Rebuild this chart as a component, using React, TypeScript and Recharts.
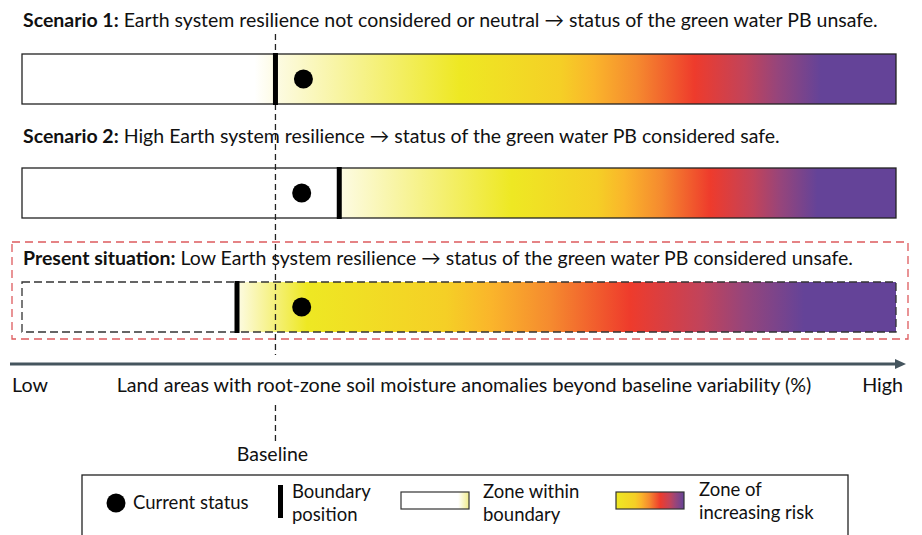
import React from "react";
import {
  ComposedChart,
  Bar,
  Scatter,
  XAxis,
  YAxis,
  ReferenceLine,
  ReferenceArea,
  Legend,
  LabelList,
  Label,
} from "recharts";

const FONT = "Lato, 'Open Sans', sans-serif";

// rows, top to bottom
const scenarios = ["Scenario 1", "Scenario 2", "Present situation"];
const titleLeads = ["Scenario 1:", "Scenario 2:", "Present situation:"];
const titleTexts = [
  "Earth system resilience not considered or neutral \u2192 status of the green water PB unsafe.",
  "High Earth system resilience \u2192 status of the green water PB considered safe.",
  "Low Earth system resilience \u2192 status of the green water PB considered unsafe.",
];

// schematic axis, 0 = low, 100 = high
const baseline = 29;
const boundaries = [29, 36.3, 24.6];
const currentStatus = [32.2, 32, 32];
// where the colour ramp of each bar goes: white -> cream, full yellow, full purple
const fadeFrom = [26.6, 36.3, 24.2];
const yellowAt = [50.1, 56, 32.6];
const purpleAt = [91.4, 91, 89.5];

const rampStops = [0, 0.28, 0.37, 0.49, 0.65, 0.79, 0.88, 1];
const rampColors = ["#eee823", "#f5cf26", "#fab52b", "#f58a2f", "#ee3b2c", "#c2435a", "#96457b", "#644398"];
const CREAM = "#fdfbe4";

const axisLow = "Low";
const axisHigh = "High";
const axisTitle = "Land areas with root-zone soil moisture anomalies beyond baseline variability (%)";
const baselineLabel = "Baseline";

const legendLabels = [["Current status"], ["Boundary", "position"], ["Zone within", "boundary"], ["Zone of", "increasing risk"]];

const data = scenarios.map((name, i) => ({
  name,
  idx: i,
  lead: titleLeads[i],
  within: boundaries[i],
  risk: 100 - boundaries[i],
  boundary: boundaries[i],
  status: currentStatus[i],
}));

const titleGap = [27, 25, 17];

function outline(i: number) {
  return i === 2
    ? { stroke: "#333", strokeWidth: 1.3, strokeDasharray: "8 4" }
    : { stroke: "#222", strokeWidth: 1.3 };
}

function WithinShape(p: any) {
  const i = p.payload?.idx ?? p.index;
  const f = Math.min(fadeFrom[i] / boundaries[i], 1);
  const id = `within-${i}`;
  return (
    <g>
      <defs>
        <linearGradient id={id} x1="0" x2="1" y1="0" y2="0">
          <stop offset={0} stopColor="#fff" />
          <stop offset={f} stopColor="#fff" />
          <stop offset={1} stopColor={f < 1 ? CREAM : "#fff"} />
        </linearGradient>
      </defs>
      <rect x={p.x} y={p.y} width={p.width} height={p.height} fill={`url(#${id})`} {...outline(i)} />
    </g>
  );
}

function RiskShape(p: any) {
  const i = p.payload?.idx ?? p.index;
  const b = boundaries[i];
  const off = (d: number) => (d - b) / (100 - b);
  const y0 = yellowAt[i];
  const span = purpleAt[i] - y0;
  const id = `risk-${i}`;
  return (
    <g>
      <defs>
        <linearGradient id={id} x1="0" x2="1" y1="0" y2="0">
          <stop offset={0} stopColor={CREAM} />
          {rampStops.map((t, k) => (
            <stop key={k} offset={off(y0 + t * span)} stopColor={rampColors[k]} />
          ))}
          <stop offset={1} stopColor={rampColors[rampColors.length - 1]} />
        </linearGradient>
      </defs>
      <rect x={p.x} y={p.y} width={p.width} height={p.height} fill={`url(#${id})`} {...outline(i)} />
    </g>
  );
}

function BoundaryMark(p: any) {
  return <rect x={p.cx - 2.5} y={p.cy - 26} width={5} height={52} fill="#000" />;
}

function StatusDot(p: any) {
  return <circle cx={p.cx} cy={p.cy} r={9.5} fill="#000" />;
}

function TitleLabel(p: any) {
  const i = titleLeads.indexOf(p.value);
  const vb = p.viewBox || p;
  return (
    <text x={vb.x + 1} y={vb.y - titleGap[i]} fontSize={19.5} fill="#111" fontFamily={FONT}>
      <tspan fontWeight={700}>{titleLeads[i]}</tspan>
      <tspan> {titleTexts[i]}</tspan>
    </text>
  );
}

function BaselineShape(p: any) {
  const x = p.x1;
  const top = Math.min(p.y1, p.y2);
  const bottom = Math.max(p.y1, p.y2);
  const dash = { stroke: "#222", strokeWidth: 1.3, strokeDasharray: "6 4" };
  return (
    <g>
      <line x1={x} x2={x} y1={top + 12} y2={bottom - 9} {...dash} />
      <line x1={x} x2={x} y1={bottom + 41} y2={bottom + 78} {...dash} />
      <text x={x - 3} y={bottom + 97} textAnchor="middle" fontSize={19.5} fill="#111" fontFamily={FONT}>
        {baselineLabel}
      </text>
    </g>
  );
}

function PresentFrame(p: any) {
  return (
    <rect
      x={p.x - 10}
      y={p.y - 8}
      width={p.width + 22}
      height={p.height - 17}
      fill="none"
      stroke="#dd5b5e"
      strokeWidth={1.3}
      strokeDasharray="8 5"
    />
  );
}

function AxisArrow(p: any) {
  const vb = p.viewBox;
  const y = vb.y;
  const left = vb.x - 12;
  const right = vb.x + vb.width + 10;
  return (
    <g fontFamily={FONT} fill="#111">
      <line x1={left} x2={right - 8} y1={y} y2={y} stroke="#45555e" strokeWidth={3} />
      <polygon points={`${right},${y} ${right - 11},${y - 5} ${right - 11},${y + 5}`} fill="#45555e" />
      <text x={left + 2} y={y + 28} fontSize={19.7}>{axisLow}</text>
      <text x={(vb.x + vb.x + vb.width) / 2 + 5} y={y + 28} fontSize={19.7} textAnchor="middle">{axisTitle}</text>
      <text x={right - 3} y={y + 28} fontSize={19.7} textAnchor="end">{axisHigh}</text>
    </g>
  );
}

// legend drawn in page coordinates, shifted by the wrapper top
const LEGEND_TOP = 470;

function LegendText({ x, y, lines }: { x: number; y: number; lines: string[] }) {
  return (
    <text x={x} y={y - LEGEND_TOP} fontSize={18.5} fill="#111" fontFamily={FONT}>
      {lines.map((s, k) => (
        <tspan key={k} x={x} dy={k === 0 ? 0 : 22.5}>
          {s}
        </tspan>
      ))}
    </text>
  );
}

function LegendBox() {
  const y = (v: number) => v - LEGEND_TOP;
  return (
    <svg width={922} height={65} style={{ display: "block" }}>
      <defs>
        <linearGradient id="lg-within" x1="0" x2="1">
          <stop offset={0} stopColor="#fff" />
          <stop offset={0.84} stopColor="#fff" />
          <stop offset={1} stopColor="#f1ec8a" />
        </linearGradient>
        <linearGradient id="lg-risk" x1="0" x2="1">
          {rampStops.map((s, k) => (
            <stop key={k} offset={s} stopColor={rampColors[k]} />
          ))}
        </linearGradient>
      </defs>
      <rect x={82} y={y(475)} width={766} height={80} fill="#fff" stroke="#222" strokeWidth={1.3} />
      <circle cx={116} cy={y(503)} r={9.5} fill="#000" />
      <LegendText x={133} y={509} lines={legendLabels[0]} />
      <rect x={278} y={y(485)} width={5} height={33} fill="#000" />
      <LegendText x={292} y={498} lines={legendLabels[1]} />
      <rect x={401} y={y(492)} width={68} height={17} fill="url(#lg-within)" stroke="#333" strokeWidth={1.2} />
      <LegendText x={483} y={498} lines={legendLabels[2]} />
      <rect x={616} y={y(492)} width={68} height={17} fill="url(#lg-risk)" stroke="#333" strokeWidth={1.2} />
      <LegendText x={699} y={496} lines={legendLabels[3]} />
    </svg>
  );
}

export default function App() {
  return (
    <div style={{ position: "absolute", left: 0, top: 0, width: 922, height: 535, background: "#fff", fontFamily: FONT }}>
      <ComposedChart
        layout="vertical"
        width={922}
        height={535}
        data={data}
        margin={{ top: 22, right: 26, bottom: 141, left: 22 }}
      >
        <XAxis type="number" domain={[0, 100]} height={30} tick={false} tickLine={false} axisLine={false}>
          <Label content={AxisArrow} />
        </XAxis>
        <YAxis type="category" dataKey="name" hide width={0} allowDuplicatedCategory={false} />
        <ReferenceArea
          x1={0}
          x2={100}
          y1="Present situation"
          y2="Present situation"
          ifOverflow="visible"
          shape={PresentFrame}
        />
        <Bar dataKey="within" stackId="s" barSize={50} isAnimationActive={false} shape={WithinShape}>
          <LabelList dataKey="lead" content={TitleLabel} />
        </Bar>
        <Bar dataKey="risk" stackId="s" barSize={50} isAnimationActive={false} shape={RiskShape} />
        <ReferenceLine x={baseline} ifOverflow="visible" shape={BaselineShape} />
        <Scatter dataKey="boundary" isAnimationActive={false} shape={BoundaryMark} />
        <Scatter dataKey="status" isAnimationActive={false} shape={StatusDot} />
        <Legend
          layout="horizontal"
          verticalAlign="middle"
          align="center"
          wrapperStyle={{ left: 0, top: LEGEND_TOP, width: 922, height: 65 }}
          content={LegendBox}
        />
      </ComposedChart>
    </div>
  );
}
